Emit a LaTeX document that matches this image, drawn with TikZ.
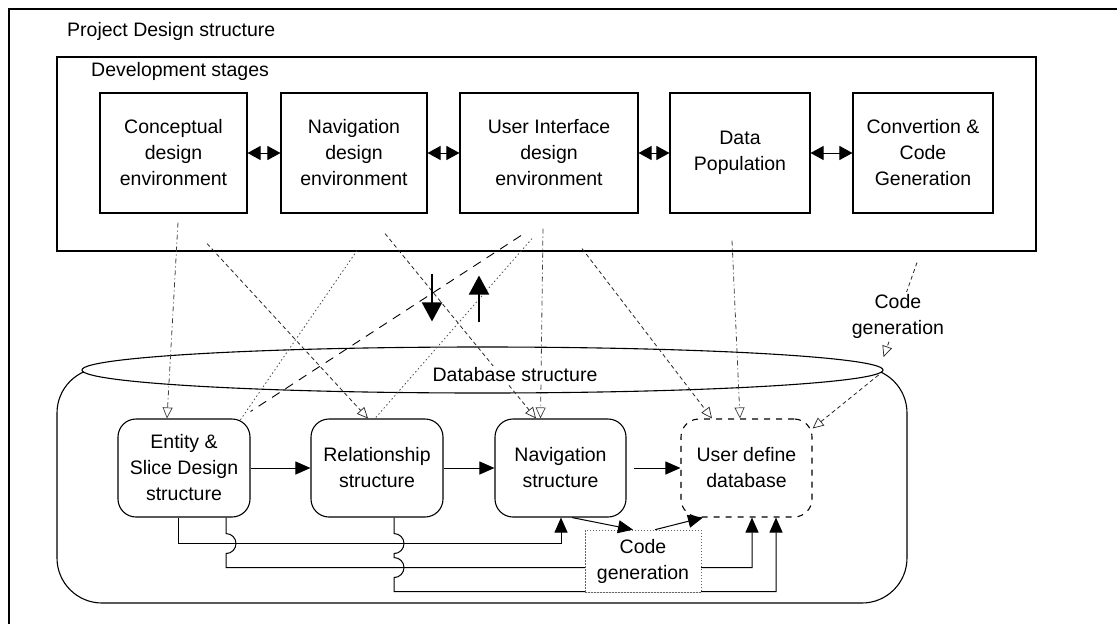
\documentclass[tikz,border=0pt]{standalone}
\usepackage{fontspec}
\setmainfont{Liberation Sans}
\usetikzlibrary{arrows.meta,shapes.geometric}

\begin{document}
\begin{tikzpicture}[x=1pt,y=-1pt,
  every node/.style={font=\fontsize{19.5}{26}\selectfont},
  frame/.style={line width=1.1pt},
  stagebox/.style={draw, line width=1.1pt, minimum height=120pt, align=center, inner sep=1pt},
  dbnode/.style={draw, line width=1.1pt, rounded corners=18pt, minimum width=132pt,
                 minimum height=98pt, align=center, inner sep=1pt},
  twoway/.style={line width=1pt, {Triangle[length=13pt,width=14pt]}-{Triangle[length=13pt,width=14pt]}},
  link/.style={line width=1pt, -{Triangle[length=15pt,width=13pt]}},
  bigarrow/.style={line width=2pt, -{Triangle[length=19pt,width=20pt]}},
  opentip/.style={-{Triangle[open,length=11pt,width=10pt,line width=0.7pt]}},
  dashdotline/.style={line width=0.8pt, black!75, dash pattern=on 5pt off 3pt on 1pt off 3pt},
  shortdash/.style={line width=0.8pt, black!85, dash pattern=on 4pt off 3pt},
  fineline/.style={line width=0.8pt, black!70, dash pattern=on 1.5pt off 2.5pt},
  longdash/.style={line width=0.9pt, dash pattern=on 9pt off 7pt}]

\useasboundingbox (0,0) rectangle (1117,624);

% outer frame (only its top and left edges fall on the page)
\draw[frame] (9,624) -- (9,9) -- (1117,9);
\node[anchor=base west, inner sep=0] (title) at (67,36) {Project Design structure};

% development stages
\node[draw, frame, minimum width=979pt, minimum height=194pt, inner sep=0] (stages) at (546.5,154) {};
\node[anchor=base west, inner sep=0] (stageslabel) at (91,76) {Development stages};

\node[stagebox, minimum width=147pt] (concept) at (173.5,153) {Conceptual\\design\\environment};
\node[stagebox, minimum width=146pt] (navenv)  at (354,153)   {Navigation\\design\\environment};
\node[stagebox, minimum width=178pt] (uienv)   at (549,153)   {User Interface\\design\\environment};
\node[stagebox, minimum width=140pt] (datapop) at (740,153)   {Data\\Population};
\node[stagebox, minimum width=140pt] (conv)    at (923,153)   {Convertion \&\\Code\\Generation};

\draw[twoway] (concept.east) -- (navenv.west);
\draw[twoway] (navenv.east) -- (uienv.west);
\draw[twoway] (uienv.east) -- (datapop.west);
\draw[twoway] (datapop.east) -- (conv.west);

% database structure container
\draw[frame, rounded corners=45pt] (57,368) rectangle (907,603);
\node[ellipse, draw, frame, fill=white, minimum width=801pt, minimum height=46pt, inner sep=0] (dbtop) at (482.5,370) {};

% database nodes
\node[dbnode] (entity)    at (184,468)   {Entity \&\\Slice Design\\structure};
\node[dbnode] (relation)  at (377,468)   {Relationship\\structure};
\node[dbnode, minimum width=131pt] (navstruct) at (560.5,468) {Navigation\\structure};
\node[dbnode, minimum width=131pt, dash pattern=on 6pt off 6pt] (userdb) at (746.5,468) {User define\\database};

\draw[link] (entity.east) -- (relation.west);
\draw[link] (relation.east) -- (navstruct.west);
\draw[link, shorten <=7pt] (navstruct.east) -- (userdb.west);

% links running underneath the structures
\draw[link] ([xshift=-6pt]entity.south) -- ++(0,26) -| ([xshift=0.5pt]navstruct.south);
\draw[link] ([xshift=42pt]entity.south) -- ++(0,16)
   arc[start angle=-90, end angle=90, radius=10] -- ++(0,14) -| ([xshift=5.5pt]userdb.south);
\draw[link] ([xshift=17pt]relation.south) -- ++(0,16)
   arc[start angle=-90, end angle=90, radius=10] -- ++(0,4)
   arc[start angle=-90, end angle=90, radius=10] -- ++(0,14) -| ([xshift=29.5pt]userdb.south);

\node[draw, black!60, line width=0.6pt, dash pattern=on 1.5pt off 1.5pt, fill=white, text=black,
      minimum width=116pt, minimum height=62pt, align=center, inner sep=1pt] (codegen) at (643,561) {Code\\generation};
\draw[link] ([xshift=11.5pt]navstruct.south) -- ([xshift=-10pt]codegen.north);
\draw[link] ([xshift=12pt]codegen.north) -- ([xshift=-43.5pt]userdb.south);

% traces between the development stages and the database structure
\draw[dashdotline, opentip] ([xshift=4.5pt,yshift=-9pt]concept.south) -- ([xshift=-17pt]entity.north);
\draw[shortdash, opentip] ([xshift=33.5pt,yshift=-30pt]concept.south) -- ([xshift=-9pt]relation.north);
\draw[fineline] ([xshift=3pt,yshift=-37pt]navenv.south) -- ([xshift=56pt,yshift=-2pt]entity.north);
\draw[shortdash, opentip] ([xshift=31pt,yshift=-20pt]navenv.south) -- ([xshift=-24.5pt]navstruct.north);
\draw[longdash] ([xshift=-28pt,yshift=-22pt]uienv.south) -- ([yshift=7pt]entity.north east);
\draw[fineline] ([xshift=-17pt,yshift=-25pt]uienv.south) -- ([xshift=-2pt]relation.north);
\draw[dashdotline, opentip] ([xshift=-6pt,yshift=-15pt]uienv.south) -- ([xshift=-20pt]navstruct.north);
\draw[shortdash, opentip] ([xshift=33pt,yshift=-35pt]uienv.south) -- ([xshift=-34.5pt]userdb.north);
\draw[dashdotline, opentip] ([xshift=-8pt,yshift=-27pt]datapop.south) -- ([xshift=-6.5pt]userdb.north);
\draw[shortdash, opentip] ([xshift=-6pt,yshift=-49pt]conv.south) -- node[pos=0.57, fill=white, text=black, align=center, inner sep=2pt] (cglabel) {Code\\generation} ([yshift=13pt]dbtop.east);
\draw[shortdash, opentip] ([xshift=-5pt,yshift=-5pt]dbtop.east) -- ([yshift=-10pt]userdb.north east);

% exchange between the two layers
\draw[bigarrow] ([xshift=-114.5pt,yshift=-22pt]stages.south) -- ([xshift=-50.5pt,yshift=25pt]dbtop.north);
\draw[bigarrow] ([xshift=-3.5pt,yshift=24pt]dbtop.north) -- ([xshift=-67.5pt,yshift=-24pt]stages.south);

\node[fill=white, inner sep=2pt] (dblabel) at (515,375) {Database structure};
\end{tikzpicture}
\end{document}
